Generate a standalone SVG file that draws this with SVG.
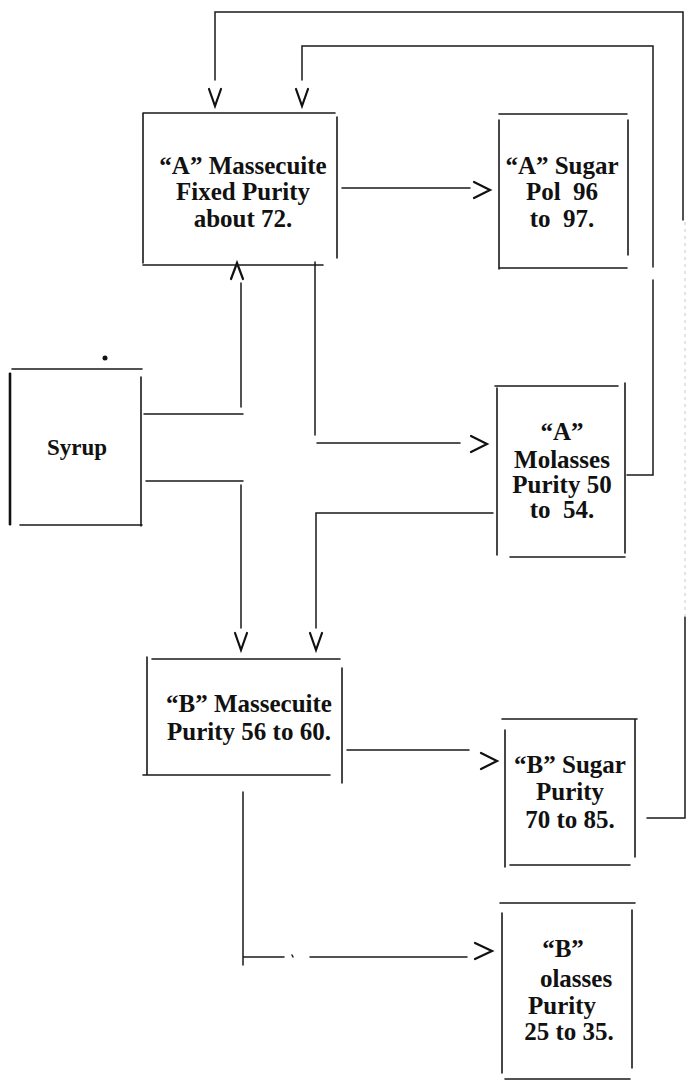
<svg xmlns="http://www.w3.org/2000/svg" width="687" height="1080" viewBox="0 0 687 1080">
<style>
.b{fill:none;stroke:#1a1a1a;stroke-width:1.6;stroke-linecap:round}
.c{fill:none;stroke:#1a1a1a;stroke-width:1.5;stroke-linecap:round}
.f{fill:none;stroke:#c8c8c8;stroke-width:1;stroke-dasharray:3 4}
.h{fill:none;stroke:#111;stroke-width:2.2;stroke-linecap:round;stroke-linejoin:miter}
text{font-family:"Liberation Serif","Times New Roman",serif;font-weight:bold;font-size:25px;fill:#111;text-anchor:middle;white-space:pre}
</style>
<rect width="687" height="1080" fill="#fff"/>
<g id="connectors">
  <path class="c" d="M647,818 H685 V617"/>
  <path class="f" d="M685,617 V220"/>
  <path class="c" d="M683,220 V12 H215 V80"/>
  <path class="h" d="M209,89 L215,106 L221,89"/>
  <path class="c" d="M627,475 H653 V280 M653,267 V46 H302 V80"/>
  <path class="h" d="M296,89 L302,106 L308,89"/>
  <path class="c" d="M342,188 H470"/>
  <path class="h" d="M474,182 L490,190 L474,198"/>
  <path class="c" d="M144,414 H243 M241,407 V283"/>
  <path class="h" d="M231,279 L237,263 L243,279"/>
  <path class="c" d="M146,481 H243 M241,485 V628"/>
  <path class="h" d="M235,633 L241,650 L247,633"/>
  <path class="c" d="M315,262 V435 M317,443 H460"/>
  <path class="h" d="M471,436 L487,444 L471,452"/>
  <path class="c" d="M493,513 H316 V628"/>
  <path class="h" d="M310,633 L316,650 L322,633"/>
  <path class="c" d="M347,750 H469"/>
  <path class="h" d="M481,753 L497,761 L481,769"/>
  <path class="c" d="M243,792 V965 M244,957 H284 M292,955 L293,957 M310,957 H467"/>
  <path class="h" d="M475,943 L492,951 L475,959"/>
</g>
<g id="node-a-massecuite">
  <path class="b" d="M143,113 H335 M143,113 V263 M337,117 V258 M143,265 H323"/>
  <text x="243" y="174">“A” Massecuite</text>
  <text x="243" y="200">Fixed Purity</text>
  <text x="243" y="227">about 72.</text>
</g>
<g id="node-a-sugar">
  <path class="b" d="M499,114 H627 M499,120 V269 M628,120 V255 M499,268 H627"/>
  <text x="562" y="174">“A” Sugar</text>
  <text x="562" y="200">Pol  96</text>
  <text x="562" y="227">to  97.</text>
</g>
<g id="node-syrup">
  <path class="b" d="M12,369 H142 M10,373 V525 M141,377 V526 M20,525 H142"/>
  <path d="M10,373 V525" stroke="#111" stroke-width="2.6" fill="none"/>
  <circle cx="105" cy="358" r="2.5" fill="#111"/>
  <text x="77" y="455" style="font-size:23px">Syrup</text>
</g>
<g id="node-a-molasses">
  <path class="b" d="M495,386 H618 M497,388 V555 M625,383 V553 M510,557 H625"/>
  <text x="562" y="440">“A”</text>
  <text x="562" y="468">Molasses</text>
  <text x="562" y="493">Purity 50</text>
  <text x="562" y="518">to  54.</text>
</g>
<g id="node-b-massecuite">
  <path class="b" d="M152,659 H340 M147,657 V775 M342,668 V783 M143,775 H330"/>
  <text x="249" y="712">“B” Massecuite</text>
  <text x="249" y="740">Purity 56 to 60.</text>
</g>
<g id="node-b-sugar">
  <path class="b" d="M502,719 H637 M505,730 V867 M635,720 V857 M510,865 H630"/>
  <text x="570" y="773">“B” Sugar</text>
  <text x="570" y="800">Purity</text>
  <text x="570" y="828">70 to 85.</text>
</g>
<g id="node-b-molasses">
  <path class="b" d="M500,903 H635 M502,913 V1073 M632,910 V1068 M505,1079 H630"/>
  <text x="563" y="957">“B”</text>
  <text x="576" y="987">olasses</text>
  <text x="562" y="1014">Purity</text>
  <text x="569" y="1040">25 to 35.</text>
</g>
</svg>
